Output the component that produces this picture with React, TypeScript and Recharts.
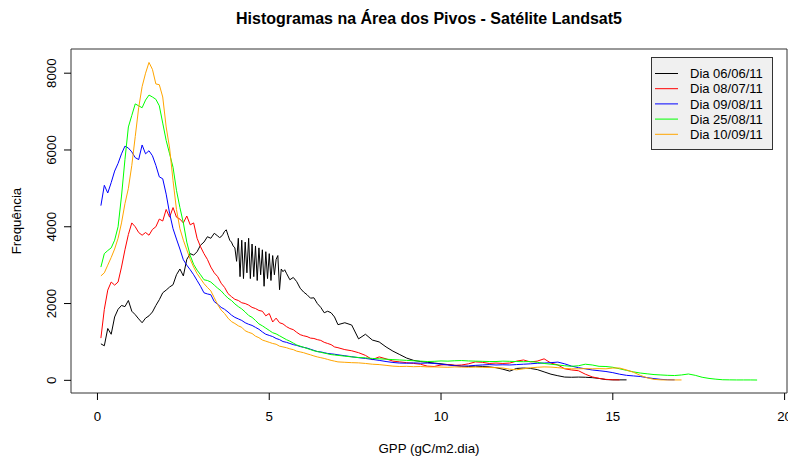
import { LineChart, Line, XAxis, YAxis, ReferenceArea, Legend, Label } from 'recharts';

const font = '"Liberation Sans", Arial, sans-serif';

// GPP bin centres shared by the red, blue, green and orange curves
const gpp = [
  0.1, 0.2, 0.3, 0.4, 0.5, 0.6, 0.7, 0.8, 0.9, 1.0,
  1.1, 1.2, 1.3, 1.4, 1.5, 1.6, 1.7, 1.8, 1.9, 2.0,
  2.1, 2.2, 2.3, 2.4, 2.5, 2.6, 2.7, 2.8, 2.9, 3.0,
  3.1, 3.2, 3.3, 3.4, 3.5, 3.6, 3.7, 3.8, 3.9, 4.0,
  4.1, 4.2, 4.3, 4.4, 4.5, 4.6, 4.7, 4.8, 4.9, 5.0,
  5.1, 5.2, 5.3, 5.4, 5.5, 5.6, 5.7, 5.8, 5.9, 6.0,
  6.1, 6.2, 6.3, 6.4, 6.5, 6.6, 6.7, 6.8, 6.9, 7.0,
  7.2, 7.4, 7.6, 7.8, 8.0, 8.2, 8.4, 8.6, 8.8, 9.0,
  9.2, 9.4, 9.6, 9.8, 10.0, 10.2, 10.4, 10.6, 10.8, 11.0,
  11.2, 11.4, 11.6, 11.8, 12.0, 12.2, 12.4, 12.6, 12.8, 13.0,
  13.2, 13.4, 13.6, 13.8, 14.0, 14.2, 14.4, 14.6, 14.8, 15.0,
  15.2, 15.4, 15.6, 15.8, 16.0, 16.2, 16.4, 16.6, 16.8, 17.0,
  17.2, 17.4, 17.6, 17.8, 18.0, 18.2, 18.4, 18.6, 18.8, 19.0,
  19.2,
];

// black curve has finer bins in the noisy part
const gppBlack = [
  0.1, 0.2, 0.3, 0.4, 0.5, 0.6, 0.7, 0.8, 0.9, 1.0,
  1.1, 1.2, 1.3, 1.4, 1.5, 1.6, 1.7, 1.8, 1.9, 2.0,
  2.1, 2.2, 2.3, 2.4, 2.5, 2.6, 2.7, 2.8, 2.9, 3.0,
  3.1, 3.2, 3.3, 3.4, 3.5,
  3.55, 3.6, 3.65, 3.7, 3.75, 3.8, 3.85, 3.9, 3.95, 4.0,
  4.05, 4.1, 4.15, 4.2, 4.25, 4.3, 4.35, 4.4, 4.45, 4.5,
  4.55, 4.6, 4.65, 4.7, 4.75, 4.8, 4.85, 4.9, 4.95, 5.0,
  5.05, 5.1, 5.15, 5.2, 5.25, 5.3, 5.35, 5.4, 5.45, 5.5,
  5.6, 5.7, 5.8, 5.9, 6.0, 6.1, 6.2, 6.3, 6.4, 6.5,
  6.6, 6.7, 6.8, 6.9, 7.0,
  7.2, 7.4, 7.6, 7.8, 8.0, 8.2, 8.4, 8.6, 8.8, 9.0,
  9.2, 9.4, 9.6, 9.8, 10.0, 10.2, 10.4, 10.6, 10.8, 11.0,
  11.2, 11.4, 11.6, 11.8, 12.0, 12.2, 12.4, 12.6, 12.8, 13.0,
  13.2, 13.4, 13.6, 13.8, 14.0, 14.2, 14.4, 14.6, 14.8, 15.0,
  15.2, 15.4,
];

const freq0606 = [
  950, 900, 1350, 1200, 1650, 1850, 1950, 1920, 2080, 1800,
  1710, 1600, 1500, 1620, 1680, 1780, 1950, 2100, 2280, 2350,
  2430, 2490, 2750, 2900, 2720, 3150, 3300, 3260, 3350, 3520,
  3600, 3740, 3700, 3830, 3760,
  3720, 3740, 3800, 3880, 3920, 3780, 3650, 3600, 3500, 3450,
  3100, 3700, 2700, 3650, 2650, 3600, 2800, 3700, 2650, 3550,
  2700, 3500, 2600, 3450, 2750, 3400, 2450, 3350, 2650, 3300,
  2600, 3250, 2750, 3150, 3250, 2360, 2900, 2830, 2880, 2790,
  2620, 2680, 2570, 2400, 2300, 2230, 2140, 2150, 2000, 1900,
  1760, 1800, 1760, 1650, 1450,
  1500, 1440, 1080, 1200, 1050, 1000, 870, 760, 670, 580,
  520, 490, 470, 450, 430, 410, 390, 370, 360, 370,
  360, 350, 330, 290, 240, 310, 320, 310, 280, 220,
  160, 120, 85, 80, 85, 80, 70, 50, 20, 12,
  12, 12,
];

const freq0807 = [
  1100, 1850, 2350, 2560, 2480, 2560, 2950, 3400, 3800, 4100,
  4000, 3850, 3780, 3850, 3780, 3930, 4000, 4200, 4150, 4450,
  4250, 4500, 4250, 4200, 4100, 4280, 4050, 4100, 3700, 3480,
  3300, 3150, 2950, 2800, 2700, 2530, 2420, 2260, 2180, 2110,
  2080, 2020, 2000, 1960, 1900, 1870, 1820, 1800, 1680, 1740,
  1520, 1620, 1500, 1470, 1400, 1350, 1320, 1250, 1190, 1160,
  1140, 1100, 1090, 1060, 1040, 990, 960, 930, 870, 850,
  800, 770, 720, 650, 540, 610, 560, 500, 480, 460,
  440, 420, 370, 360, 400, 410, 390, 400, 430, 480,
  470, 440, 450, 440, 450, 500, 530, 480, 500, 560,
  450, 400, 300, 270, 250, 160, 90, 50, 25, 15,
  12,
];

const freq0908 = [
  4550, 5080, 4880, 5150, 5450, 5650, 5900, 6100, 6050, 5950,
  5800, 5750, 6130, 5900, 5980, 5850, 5600, 5300, 5250, 4850,
  4350, 3950, 3680, 3420, 3140, 3000, 2880, 2750, 2600, 2450,
  2280, 2250, 2230, 2050, 1980, 1900, 1850, 1780, 1700, 1640,
  1600, 1560, 1500, 1460, 1430, 1380, 1330, 1260, 1200, 1170,
  1140, 1090, 1060, 1010, 990, 960, 930, 910, 880, 860,
  840, 810, 780, 750, 740, 720, 700, 690, 680, 665,
  640, 615, 590, 570, 545, 520, 490, 465, 450, 445,
  455, 445, 450, 440, 420, 400, 380, 365, 375, 390,
  400, 410, 400, 405, 400, 410, 420, 430, 445, 450,
  460, 475, 430, 370, 330, 300, 270, 250, 230, 200,
  160, 130, 115, 100, 70, 45, 25, 15, 12,
];

const freq2508 = [
  2950, 3300, 3380, 3450, 3650, 4000, 4800, 5750, 6600, 6900,
  7200, 7150, 7100, 7300, 7430, 7380, 7320, 7150, 6700, 6250,
  5900, 5550, 4950, 4500, 4100, 3600, 3250, 3020, 2870, 2750,
  2620, 2600, 2560, 2480, 2400, 2330, 2230, 2140, 2080, 1990,
  1920, 1860, 1780, 1690, 1640, 1560, 1470, 1420, 1360, 1300,
  1240, 1210, 1160, 1110, 1060, 1020, 970, 920, 890, 860,
  830, 800, 770, 750, 730, 710, 690, 670, 660, 650,
  630, 610, 595, 585, 570, 560, 550, 540, 530, 520,
  510, 500, 490, 495, 505, 500, 510, 515, 505, 500,
  495, 490, 490, 500, 495, 490, 485, 490, 470, 440,
  420, 400, 380, 365, 380, 420, 400, 365, 360, 340,
  300, 260, 220, 190, 170, 150, 140, 130, 125, 140,
  165, 130, 80, 50, 30, 15, 12, 10, 10, 10,
  8,
];

const freq1009 = [
  2720, 2800, 3000, 3200, 3420, 3700, 4100, 4600, 5000, 5600,
  6350, 7100, 7650, 8000, 8280, 8100, 7720, 7700, 7380, 6600,
  6050, 5200, 4450, 3950, 3650, 3400, 3150, 2950, 2780, 2650,
  2520, 2420, 2330, 2150, 1970, 1830, 1740, 1620, 1530, 1480,
  1420, 1380, 1290, 1250, 1220, 1150, 1110, 1050, 1020, 990,
  960, 940, 890, 870, 850, 820, 800, 760, 740, 720,
  690, 665, 635, 610, 590, 570, 545, 520, 500, 480,
  470, 460, 455, 440, 420, 410, 390, 370, 360, 365,
  355, 360, 350, 350, 345, 340, 350, 345, 340, 345,
  340, 335, 330, 320, 290, 275, 300, 325, 340, 350,
  345, 330, 310, 300, 300, 305, 300, 305, 300, 320,
  320, 270, 210, 130, 65, 25, 12, 10, 10, 10,
];

const dias = ['Dia 06/06/11', 'Dia 08/07/11', 'Dia 09/08/11', 'Dia 25/08/11', 'Dia 10/09/11'];
const cores = ['#000000', '#ff0000', '#0000ff', '#00ff00', '#ffa500'];

const toPoints = (xs: number[], ys: number[]) => ys.map((f, i) => ({ g: xs[i], f }));

const series = [
  { name: dias[0], color: cores[0], data: toPoints(gppBlack, freq0606) },
  { name: dias[1], color: cores[1], data: toPoints(gpp, freq0807) },
  { name: dias[2], color: cores[2], data: toPoints(gpp, freq0908) },
  { name: dias[3], color: cores[3], data: toPoints(gpp, freq2508) },
  { name: dias[4], color: cores[4], data: toPoints(gpp, freq1009) },
];

const xTicks = [0, 5, 10, 15, 20];
const yTicks = [0, 2000, 4000, 6000, 8000];

const YTick = (props: any) => {
  const { x, y, payload } = props;
  return (
    <text x={x} y={y} transform={`rotate(-90 ${x} ${y})`} textAnchor="middle"
      fontSize={13.3} fill="#000" fontFamily={font}>
      {payload.value}
    </text>
  );
};

const LegendBox = () => (
  <svg width={123} height={94} style={{ display: 'block' }}>
    <rect x={0.5} y={0.5} width={121} height={92} fill="#f0f0f0" stroke="#333" />
    {dias.map((d, i) => {
      const cy = 16.5 + 15.2 * i;
      return (
        <g key={d}>
          <line x1={4} x2={27} y1={cy} y2={cy} stroke={cores[i]} strokeWidth={1} />
          <text x={39} y={cy + 4.7} fontSize={13} fill="#000" fontFamily={font}>{d}</text>
        </g>
      );
    })}
  </svg>
);

export default function App() {
  return (
    <div style={{ position: 'absolute', left: 0, top: 0, width: 788, height: 456, background: '#fff', fontFamily: font, overflow: 'hidden' }}>
      <LineChart width={788} height={456} margin={{ top: 49, right: 1, bottom: 0, left: 0 }}>
        <XAxis type="number" dataKey="g" domain={[-0.77, 20.07]} allowDataOverflow ticks={xTicks}
          interval={0} height={63} tickSize={7} tickMargin={12} axisLine={false}
          tickLine={{ stroke: '#000' }} tick={{ fontSize: 13.3, fill: '#000', fontFamily: font }}>
          <Label value="GPP (gC/m2.dia)" position="insideBottom" offset={3}
            style={{ fontSize: 13.3, fill: '#000', fontFamily: font }} />
        </XAxis>
        <YAxis type="number" domain={[-330, 8630]} allowDataOverflow ticks={yTicks} interval={0}
          width={71} tickSize={7} tickMargin={8} axisLine={false} tickLine={{ stroke: '#000' }}
          tick={YTick}>
          <Label content={() => (
            <text x={21} y={221} transform="rotate(-90 21 221)" textAnchor="middle"
              fontSize={13.3} fill="#000" fontFamily={font}>Frequência</text>
          )} />
        </YAxis>
        <ReferenceArea x1={-0.77} x2={20.07} y1={-330} y2={8630} fill="none" stroke="#333"
          strokeWidth={1} ifOverflow="visible" />
        {series.map((s) => (
          <Line key={s.name} data={s.data} dataKey="f" name={s.name} type="linear" dot={false}
            stroke={s.color} strokeWidth={1} isAnimationActive={false} />
        ))}
        <Legend layout="vertical" align="center" verticalAlign="middle"
          wrapperStyle={{ left: 651, top: 57, width: 123, height: 94 }}
          content={() => <LegendBox />} />
      </LineChart>
      <div style={{ position: 'absolute', left: 70, top: 11, width: 718, textAlign: 'center', fontWeight: 'bold', fontSize: 16, lineHeight: '16px', color: '#000' }}>
        Histogramas na Área dos Pivos - Satélite Landsat5
      </div>
    </div>
  );
}
